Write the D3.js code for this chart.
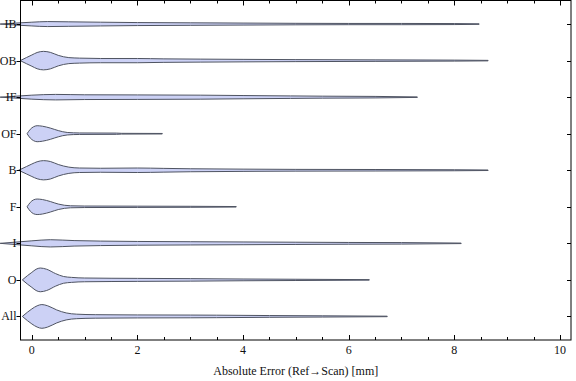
<!DOCTYPE html>
<html>
<head>
<meta charset="utf-8">
<script src="https://cdn.jsdelivr.net/npm/d3@7"></script>
<style>
  html, body { margin: 0; padding: 0; background: #fff; }
  svg { display: block; }
</style>
</head>
<body>
<svg id="chart" width="576" height="381"></svg>
<script>
// Categories (top to bottom)
const categories = ["IB", "OB", "IF", "OF", "B", "F", "I", "O", "All"];

// Violin profiles: [error (mm), relative density]
const profileIB = [[-0.6,0],[-0.3,0.08],[0,0.15],[0.3,0.2],[0.7,0.18],[1.3,0.15],[2,0.12],[3,0.1],[4,0.08],[5,0.06],[6,0.05],[7,0.05],[8,0.04],[8.47,0.02]];
const profileOB = [[-0.22,0],[-0.1,0.25],[0,0.45],[0.1,0.65],[0.22,0.74],[0.35,0.66],[0.5,0.42],[0.7,0.24],[0.9,0.2],[1.3,0.17],[2,0.17],[2.5,0.14],[3.2,0.12],[4,0.1],[5,0.08],[6.5,0.06],[8,0.04],[8.64,0.02]];
const profileIF = [[-0.6,0],[-0.3,0.08],[0,0.16],[0.45,0.22],[1,0.19],[2,0.18],[3.2,0.16],[4,0.13],[4.9,0.1],[5.5,0.08],[6.5,0.06],[7.3,0.02]];
const profileOF = [[-0.09,0],[-0.03,0.35],[0.03,0.55],[0.1,0.64],[0.2,0.6],[0.35,0.45],[0.5,0.25],[0.67,0.1],[0.9,0.06],[1.6,0.05],[1.7,0.03],[2.47,0.02]];
const profileB  = [[-0.25,0],[-0.1,0.3],[0,0.5],[0.1,0.68],[0.22,0.77],[0.35,0.7],[0.5,0.46],[0.7,0.25],[0.9,0.18],[1.3,0.16],[2,0.18],[2.5,0.15],[3,0.12],[4,0.09],[5,0.07],[6.5,0.06],[8,0.04],[8.64,0.02]];
const profileF  = [[-0.09,0],[-0.03,0.35],[0.03,0.55],[0.1,0.62],[0.2,0.58],[0.35,0.42],[0.5,0.22],[0.73,0.08],[1,0.06],[2,0.05],[3,0.04],[3.87,0.02]];
const profileI  = [[-0.6,0],[-0.3,0.1],[0,0.2],[0.35,0.29],[0.8,0.22],[1.3,0.18],[2,0.15],[3,0.13],[4,0.11],[5,0.09],[6,0.07],[7,0.06],[8.13,0.02]];
const profileO  = [[-0.18,0],[-0.08,0.35],[0,0.6],[0.08,0.85],[0.16,0.95],[0.28,0.85],[0.45,0.5],[0.6,0.27],[0.75,0.2],[1,0.15],[2,0.12],[3,0.1],[4,0.07],[5,0.05],[6.39,0.02]];
const profileAll= [[-0.18,0],[-0.08,0.35],[0,0.6],[0.1,0.85],[0.19,0.95],[0.3,0.85],[0.47,0.52],[0.65,0.28],[0.85,0.18],[1.2,0.14],[2,0.12],[3,0.11],[3.5,0.1],[4.5,0.07],[5.5,0.05],[6.73,0.02]];
const profiles = [profileIB, profileOB, profileIF, profileOF, profileB, profileF, profileI, profileO, profileAll];

const xMajorTicks = [0, 2, 4, 6, 8, 10];
const xTitle = "Absolute Error (Ref\u2192Scan) [mm]";

// Layout
const mLeft = 20.5, mRight = 571, mTop = 0.5, mBottom = 340;
const FONT = "'Liberation Serif', 'Times New Roman', serif";
const svg = d3.select("#chart");

const x = d3.scaleLinear().domain([-0.215, 10.21]).range([mLeft, mRight]);
const y = d3.scalePoint().domain(categories).range([mTop, mBottom]).padding(0.645);
const w = d3.scaleLinear().domain([0, 1]).range([0, 12.5]);

// Violins
categories.forEach((c, i) => {
  const cy = y(c);
  const area = d3.area()
    .x(d => x(d[0]))
    .y0(d => cy - w(d[1]))
    .y1(d => cy + w(d[1]))
    .curve(d3.curveMonotoneX);
  svg.append("path")
    .datum(profiles[i])
    .attr("d", area)
    .attr("fill", "#ccd1f5")
    .attr("stroke", "#4f5462")
    .attr("stroke-width", 1)
    .attr("stroke-linejoin", "round");
});

// Frame
svg.append("rect")
  .attr("x", mLeft).attr("y", mTop)
  .attr("width", mRight - mLeft).attr("height", mBottom - mTop)
  .attr("fill", "none").attr("stroke", "#000").attr("stroke-width", 1);

// X ticks (bottom and top, inward)
const minorTicks = d3.range(0, 10.01, 0.5).filter(v => !xMajorTicks.includes(v));
const g = svg.append("g").attr("stroke", "#000").attr("stroke-width", 1);
xMajorTicks.forEach(v => {
  const px = Math.round(x(v)) + 0.5;
  g.append("line").attr("x1", px).attr("x2", px).attr("y1", mBottom).attr("y2", mBottom - 5);
  g.append("line").attr("x1", px).attr("x2", px).attr("y1", mTop).attr("y2", mTop + 5);
});
minorTicks.forEach(v => {
  const px = Math.round(x(v)) + 0.5;
  g.append("line").attr("x1", px).attr("x2", px).attr("y1", mBottom).attr("y2", mBottom - 3);
  g.append("line").attr("x1", px).attr("x2", px).attr("y1", mTop).attr("y2", mTop + 3);
});
// Y ticks
categories.forEach(c => {
  const py = Math.round(y(c)) + 0.5;
  g.append("line").attr("x1", mLeft - 4).attr("x2", mLeft).attr("y1", py).attr("y2", py);
  g.append("line").attr("x1", mRight - 4).attr("x2", mRight).attr("y1", py).attr("y2", py);
});

// Labels
svg.append("g").selectAll("text").data(xMajorTicks).join("text")
  .attr("x", d => x(d)).attr("y", mBottom + 14)
  .attr("text-anchor", "middle")
  .attr("font-family", FONT).attr("font-size", 12).attr("fill", "#111")
  .text(d => d);

svg.append("g").selectAll("text").data(categories).join("text")
  .attr("x", mLeft - 4).attr("y", d => y(d) + 4)
  .attr("text-anchor", "end")
  .attr("font-family", FONT).attr("font-size", 12).attr("fill", "#111")
  .text(d => d);

svg.append("text")
  .attr("x", (mLeft + mRight) / 2).attr("y", 375)
  .attr("text-anchor", "middle")
  .attr("font-family", FONT).attr("font-size", 12).attr("fill", "#111")
  .text(xTitle);
</script>
</body>
</html>
